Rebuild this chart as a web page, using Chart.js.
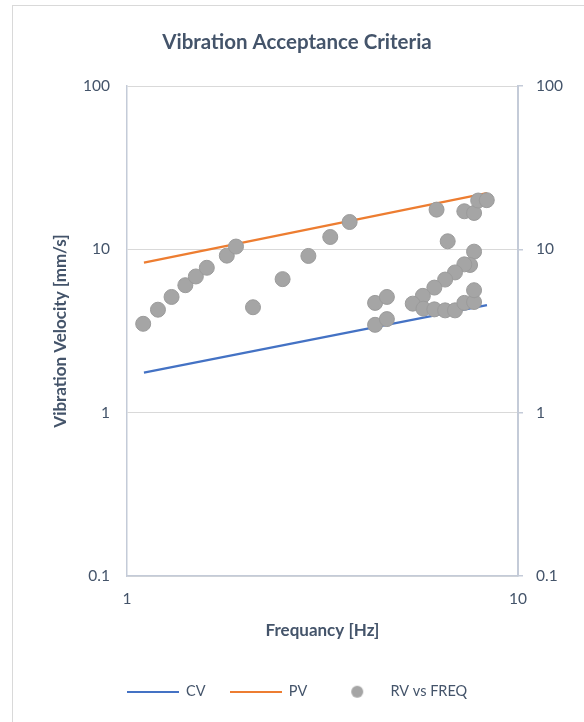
<!DOCTYPE html>
<html>
<head>
<meta charset="utf-8">
<script src="https://cdn.jsdelivr.net/npm/chart.js@4"></script>
<style>
html, body { margin: 0; padding: 0; background: #fff; overflow: hidden; }
#frame { position: absolute; left: 12px; top: 5px; width: 600px; height: 740px; border: 1px solid #d9d9d9; box-sizing: border-box; }
#wrap { position: absolute; left: 0; top: 0; width: 584px; height: 722px; }
</style>
</head>
<body>
<div id="frame"></div>
<div id="wrap"><canvas id="grafica" width="584" height="722"></canvas></div>
<script>
// datos
var freq = [1.10, 1.20, 1.30, 1.41, 1.50, 1.60, 1.80, 1.90, 2.10, 2.50, 2.91, 3.31, 3.71, 4.31, 4.62, 4.31, 4.62,
            6.19, 7.29, 7.72, 7.91, 8.32, 6.61, 7.72, 7.54, 7.29, 6.90, 6.51, 6.11, 5.71, 5.38, 5.73, 6.11, 6.51, 6.90, 7.29, 7.72, 7.72];
var rv = [3.50, 4.27, 5.11, 6.03, 6.82, 7.71, 9.15, 10.4, 4.42, 6.57, 9.11, 11.9, 14.7, 4.70, 5.11, 3.45, 3.74,
          17.5, 17.1, 16.7, 19.9, 20.0, 11.2, 9.68, 8.02, 8.09, 7.22, 6.53, 5.83, 5.19, 4.65, 4.33, 4.29, 4.23, 4.23, 4.70, 4.76, 5.62];
var cvFreq = [1.105, 8.33];
var cvVal = [1.76, 4.55];
var pvFreq = [1.105, 8.33];
var pvVal = [8.3, 22.1];
var xTicks = [1, 10];
var yTicks = [0.1, 1, 10, 100];

var textColor = '#44546a';
var axisColor = '#c4cbd8';

function puntos(xs, ys) {
    return xs.map(function (x, i) { return { x: x, y: ys[i] }; });
}

// iconos de la leyenda
function iconoLinea(color) {
    var c = document.createElement('canvas');
    c.width = 52; c.height = 2;
    var g = c.getContext('2d');
    g.fillStyle = color;
    g.fillRect(0, 0, 52, 2);
    return c;
}
function iconoPunto(color) {
    var c = document.createElement('canvas');
    c.width = 14; c.height = 14;
    var g = c.getContext('2d');
    g.fillStyle = color;
    g.beginPath();
    g.arc(7, 7, 6, 0, Math.PI * 2);
    g.fill();
    return c;
}

Chart.defaults.font.family = 'Lato, "Open Sans", sans-serif';
Chart.defaults.color = textColor;

var ctx = document.getElementById('grafica').getContext('2d');
var myChart = new Chart(ctx, {
    type: 'scatter',
    data: {
        datasets: [{
            label: 'CV',
            data: puntos(cvFreq, cvVal),
            showLine: true,
            borderColor: '#4472c4',
            borderWidth: 2.25,
            pointRadius: 0,
            order: 2
        }, {
            label: 'PV',
            data: puntos(pvFreq, pvVal),
            showLine: true,
            borderColor: '#ed7d31',
            borderWidth: 2.25,
            pointRadius: 0,
            order: 1
        }, {
            label: 'RV vs FREQ',
            data: puntos(freq, rv),
            backgroundColor: '#a5a5a5',
            borderColor: '#9b9b9b',
            borderWidth: 1,
            pointRadius: 7.5,
            order: 0
        }]
    },
    options: {
        responsive: false,
        animation: false,
        layout: { padding: { top: 10, left: 20, right: 10, bottom: 13 } },
        plugins: {
            title: {
                display: true,
                text: 'Vibration Acceptance Criteria',
                color: textColor,
                font: { size: 20.5, weight: 'bold' },
                padding: { top: 19.7, bottom: 31.7 }
            },
            legend: {
                position: 'bottom',
                labels: {
                    usePointStyle: true,
                    pointStyleWidth: 52,
                    padding: 24,
                    color: textColor,
                    font: { size: 14.5 },
                    generateLabels: function (chart) {
                        var iconos = [iconoLinea('#4472c4'), iconoLinea('#ed7d31'), iconoPunto('#a5a5a5')];
                        return chart.data.datasets.map(function (ds, i) {
                            return {
                                text: ds.label,
                                datasetIndex: i,
                                pointStyle: iconos[i],
                                fillStyle: 'transparent',
                                strokeStyle: 'transparent',
                                lineWidth: 0,
                                fontColor: textColor,
                                hidden: false
                            };
                        });
                    }
                }
            },
            tooltip: { enabled: false }
        },
        scales: {
            x: {
                type: 'logarithmic',
                position: 'bottom',
                min: 1,
                max: 10,
                afterBuildTicks: function (s) { s.ticks = xTicks.map(function (v) { return { value: v }; }); },
                afterFit: function (s) { s.height = 84.5; },
                ticks: {
                    padding: 6,
                    color: textColor,
                    font: { size: 15.5 },
                    maxRotation: 0,
                    callback: function (v) { return String(v); }
                },
                grid: { display: false },
                border: { color: axisColor, width: 1.5 },
                title: {
                    display: true,
                    text: 'Frequancy [Hz]',
                    color: textColor,
                    font: { size: 17, weight: 'bold' },
                    padding: { top: 0, bottom: 19.3 }
                }
            },
            y: {
                type: 'logarithmic',
                position: 'left',
                min: 0.1,
                max: 100,
                afterBuildTicks: function (s) { s.ticks = yTicks.map(function (v) { return { value: v }; }); },
                afterFit: function (s) { s.width = 107; },
                ticks: {
                    padding: 17,
                    color: textColor,
                    font: { size: 15.5 },
                    callback: function (v) { return String(v); }
                },
                grid: { color: '#d9d9d9', lineWidth: 1, drawTicks: false },
                border: { color: axisColor, width: 1.5 },
                title: {
                    display: true,
                    text: 'Vibration Velocity [mm/s]',
                    color: textColor,
                    font: { size: 17, weight: 'bold' },
                    padding: { top: 30, bottom: 0 }
                }
            },
            y2: {
                type: 'logarithmic',
                position: 'right',
                min: 0.1,
                max: 100,
                afterBuildTicks: function (s) { s.ticks = yTicks.map(function (v) { return { value: v }; }); },
                afterFit: function (s) { s.width = 56; },
                ticks: {
                    padding: 13,
                    color: textColor,
                    font: { size: 15.5 },
                    callback: function (v) { return String(v); }
                },
                grid: { drawOnChartArea: false, color: axisColor, tickLength: 5, lineWidth: 1.5 },
                border: { color: axisColor, width: 2 }
            }
        }
    }
});
</script>
</body>
</html>
